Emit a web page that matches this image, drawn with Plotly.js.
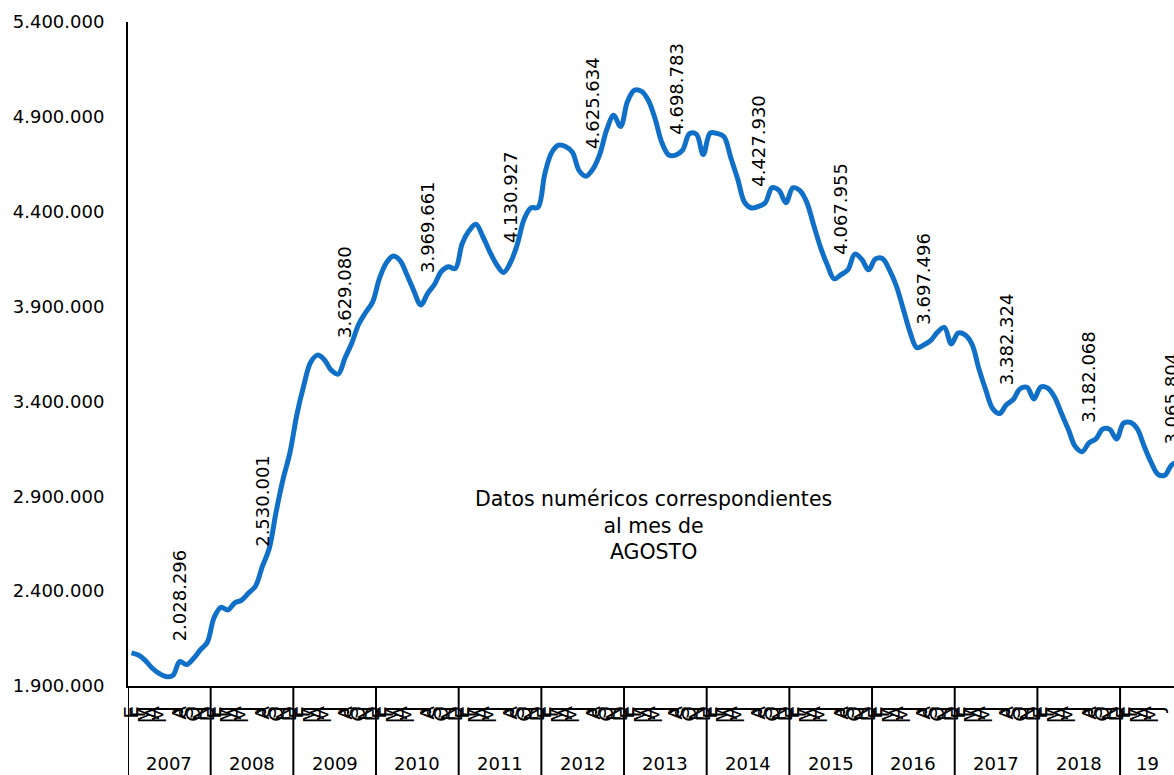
<!DOCTYPE html>
<html>
<head>
<meta charset="utf-8">
<script src="https://cdn.plot.ly/plotly-3.0.1.min.js"></script>
<style>html,body{margin:0;padding:0;background:#fff;overflow:hidden}</style>
</head>
<body>
<div id="chart" style="width:1174px;height:775px"></div>
<script>
// Year labels (last one truncated in original)
const yearLabels = ['2007','2008','2009','2010','2011','2012','2013','2014','2015','2016','2017','2018','19'];
// Month tick letters (Spanish)
const monthLetters = ['E','F','M','A','M','J','J','A','S','O','N','D'];

// Monthly values
const v2007 = [2074380, 2063000, 2035000, 1995000, 1966000, 1950000, 1955000, 2028296, 2013000, 2045000, 2090000, 2129547];
const v2008 = [2261000, 2315000, 2300975, 2338000, 2353000, 2390000, 2426000, 2530001, 2625000, 2818000, 2989000, 3128963];
const v2009 = [3327801, 3481859, 3605402, 3644041, 3620139, 3564889, 3544105, 3629080, 3709447, 3808353, 3868946, 3923603];
const v2010 = [4048493, 4130625, 4166613, 4142425, 4066202, 3982368, 3908262, 3969661, 4017763, 4085976, 4110294, 4100073];
const v2011 = [4231003, 4299263, 4333669, 4269360, 4189659, 4121801, 4079742, 4130927, 4226744, 4360926, 4420462, 4422359];
const v2012 = [4599829, 4712098, 4750867, 4744235, 4714122, 4615269, 4587455, 4625634, 4705279, 4833521, 4907817, 4848723];
const v2013 = [4980778, 5040222, 5035243, 4989193, 4890928, 4763680, 4698814, 4698783, 4724355, 4811383, 4808908, 4701338];
const v2014 = [4814435, 4812486, 4795866, 4684301, 4572385, 4449701, 4419860, 4427930, 4447650, 4526804, 4512153, 4447711];
const v2015 = [4525691, 4512116, 4451939, 4333016, 4215031, 4120304, 4046276, 4067955, 4094042, 4176369, 4149298, 4093508];
const v2016 = [4150980, 4152986, 4094770, 4011026, 3891403, 3767054, 3683061, 3697496, 3720297, 3764982, 3789823, 3702974];
const v2017 = [3760231, 3750876, 3702317, 3573036, 3461128, 3362811, 3335924, 3382324, 3410182, 3467026, 3474281, 3412781];
const v2018 = [3476528, 3470248, 3422551, 3335868, 3252130, 3162162, 3135021, 3182068, 3202509, 3254703, 3252867, 3202297];
const v2019 = [3285761, 3289040, 3255084, 3163566, 3079491, 3015686, 3011433, 3065804, 3079711];

const labelMonthIndex = 7; // agosto
const centerText = 'Datos numéricos correspondientes<br>al mes de<br>AGOSTO';

const yearly = [v2007,v2008,v2009,v2010,v2011,v2012,v2013,v2014,v2015,v2016,v2017,v2018,v2019];
const values = [].concat(...yearly);
const xs = values.map((_, i) => i);
const tickText = xs.map(i => monthLetters[i % 12]);

const fmt = v => String(v).replace(/\B(?=(\d{3})+(?!\d))/g, '.');
const xRange = [-0.5, 151.33];
const font = 'DejaVu Sans, sans-serif';

const annotations = [];
const shapes = [];
yearly.forEach((arr, k) => {
  if (arr.length > labelMonthIndex) {
    const i = k * 12 + labelMonthIndex;
    annotations.push({
      x: i, y: values[i], xref: 'x', yref: 'y', text: fmt(values[i]),
      textangle: -90, showarrow: false, yanchor: 'bottom', xanchor: 'center', yshift: 18,
      font: {family: font, size: 18, color: '#000'}
    });
  }
  const start = k * 12 - 0.5;
  const end = Math.min(start + 12, xRange[1]);
  annotations.push({
    x: (start + end) / 2, y: -0.116, xref: 'x', yref: 'paper', text: yearLabels[k],
    showarrow: false, yanchor: 'middle', xanchor: 'center',
    font: {family: font, size: 18, color: '#000'}
  });
  shapes.push({type: 'line', xref: 'x', yref: 'paper', x0: start, x1: start, y0: 0, y1: -0.14,
    line: {color: '#000', width: 2}});
});
annotations.push({
  x: 0.502, y: 0.242, xref: 'paper', yref: 'paper', text: centerText, showarrow: false,
  xanchor: 'center', yanchor: 'middle', align: 'center',
  font: {family: font, size: 20.5, color: '#000'}
});

const trace = {
  x: xs, y: values, type: 'scatter', mode: 'lines',
  line: {color: '#1070C8', width: 5, shape: 'spline', smoothing: 1},
  hoverinfo: 'skip'
};

const layout = {
  width: 1174, height: 775,
  margin: {l: 128, r: 0, t: 22, b: 89},
  paper_bgcolor: '#fff', plot_bgcolor: '#fff',
  separators: ',.',
  showlegend: false,
  font: {family: font, color: '#000'},
  xaxis: {
    range: xRange, showgrid: false, zeroline: false,
    showline: true, linecolor: '#000', linewidth: 2,
    tickmode: 'array', tickvals: xs, ticktext: tickText, tickangle: -90,
    ticks: '', ticklabelstandoff: 10, tickfont: {family: font, size: 20, color: '#000'}
  },
  yaxis: {
    range: [1900000, 5400000], tick0: 1900000, dtick: 500000, tickformat: ',.0f',
    showgrid: false, zeroline: false, showline: true, linecolor: '#000', linewidth: 2,
    ticks: '', ticklabelstandoff: 18, tickfont: {family: font, size: 18, color: '#000'}
  },
  annotations: annotations,
  shapes: shapes
};

Plotly.newPlot('chart', [trace], layout, {staticPlot: true, displayModeBar: false});
</script>
</body>
</html>
